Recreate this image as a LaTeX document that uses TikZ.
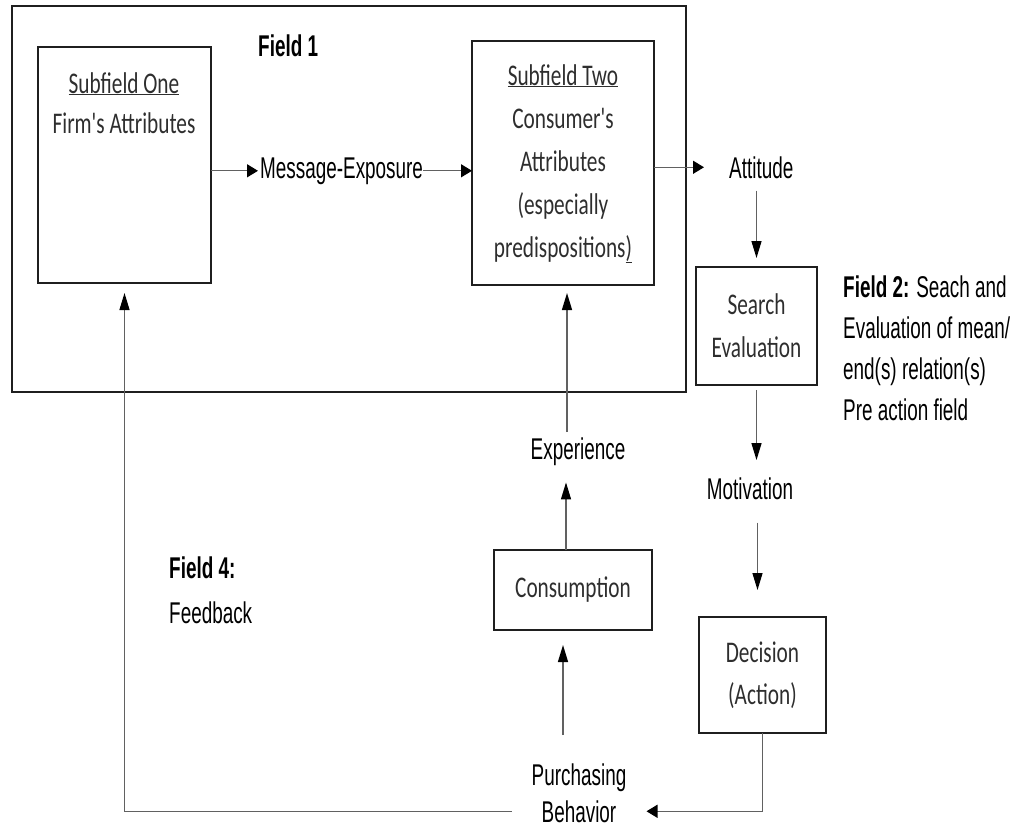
\documentclass[tikz,border=0pt]{standalone}
\usepackage{fontspec}
\setmainfont{Liberation Sans}[FakeStretch=0.63]
\newfontfamily\calfont{Carlito}[FakeStretch=0.71]
\usetikzlibrary{arrows.meta}
\begin{document}
\begin{tikzpicture}[x=1pt,y=-1pt,
  box/.style={draw=black!88, line width=2.6pt, inner sep=0pt, outer sep=0pt},
  boxtext/.style={font=\calfont\fontsize{30}{43}\selectfont, text=black!82, align=center},
  lbl/.style={font=\fontsize{30}{36}\selectfont, text=black, inner sep=0pt},
  flow/.style={draw=black!62, line width=1.3pt},
  harr/.style={flow, -{Triangle[length=11pt,width=13pt,color=black]}},
  varr/.style={flow, -{Triangle[length=17pt,width=10pt,color=black]}},
]
\useasboundingbox (0,0) rectangle (1017,831);

% frames
\node[box, minimum width=674pt, minimum height=386pt] (field1box) at (349,199) {};
\node[box, minimum width=173pt, minimum height=236pt] (sub1) at (124.5,165) {};
\node[box, minimum width=182pt, minimum height=244pt] (sub2) at (563,163) {};
\node[box, boxtext, minimum width=121pt, minimum height=118pt] (search) at (756.5,326) {Search\\Evaluation};
\node[box, boxtext, minimum width=158pt, minimum height=80pt] (cons) at (573,590) {Consumption};
\node[box, boxtext, font=\calfont\fontsize{30}{42}\selectfont, minimum width=127pt, minimum height=116pt] (decision) at (762.5,675) {Decision\\(Action)};

% texts inside the subfields (base = baseline of the last line)
\node[boxtext, font=\calfont\fontsize{30}{40}\selectfont, anchor=base, inner sep=0pt] (sub1label) at (124,133) {\underline{Subfield One}\\Firm's Attributes};
\node[boxtext, anchor=base, inner sep=0pt] (sub2label) at (563,257) {\underline{Subfield Two}\\Consumer's\\Attributes\\(especially\\predispositions\underline{)}};

% free labels
\node[lbl, font=\fontsize{30}{36}\selectfont\bfseries, anchor=base west] (field1) at (258,56) {Field 1};
\node[lbl, anchor=base west] (msg) at (260,178) {Message-Exposure};
\node[lbl, anchor=base west] (att) at (729,178) {Attitude};
\node[lbl, font=\fontsize{30}{41}\selectfont, anchor=base west, align=left] (field2) at (843,420) {\textbf{Field 2:} Seach and\\Evaluation of mean/\\end(s) relation(s)\\Pre action field};
\node[lbl, anchor=base] (exp) at (578,459) {Experience};
\node[lbl, anchor=base] (mot) at (750,499) {Motivation};
\node[lbl, anchor=base] (purchA) at (579,785) {Purchasing};
\node[lbl, anchor=base] (purchB) at (579,822) {Behavior};
\node[lbl, font=\fontsize{30}{45}\selectfont, anchor=base west, align=left] (field4) at (169,623) {\textbf{Field 4:}\\Feedback};

% connectors
\draw[harr, shorten >=2pt] (sub1.east |- msg.west) -- (msg.west);
\draw[harr] (msg.east) -- (sub2.west |- msg.east);
\draw[harr, shorten >=25pt] (sub2.east |- att.west) -- (att.west);
\draw[varr, shorten <=12pt, shorten >=9pt] (search.north |- att.south) -- (search.north);
\draw[varr, shorten <=5pt, shorten >=17pt] (search.south) -- (search.south |- mot.north);
\draw[varr, shorten <=23pt, shorten >=27pt] ([xshift=-5pt]decision.north |- mot.south) -- ([xshift=-5pt]decision.north);
\draw[harr, shorten >=30pt] (decision.south) |- (purchB.east);
\draw[varr, shorten <=28pt, shorten >=15pt] ([xshift=-16pt]purchA.north) -- ([xshift=-16pt]purchA.north |- cons.south);
\draw[varr, shorten >=17pt] ([xshift=-7pt]cons.north) -- ([xshift=-7pt]cons.north |- exp.south);
\draw[varr, shorten <=5pt, shorten >=8pt] ([xshift=-11pt]exp.north) -- ([xshift=-11pt]exp.north |- sub2.south);
\draw[varr, shorten <=30pt, shorten >=10pt] (purchB.west) -| (sub1.south);
\end{tikzpicture}
\end{document}
